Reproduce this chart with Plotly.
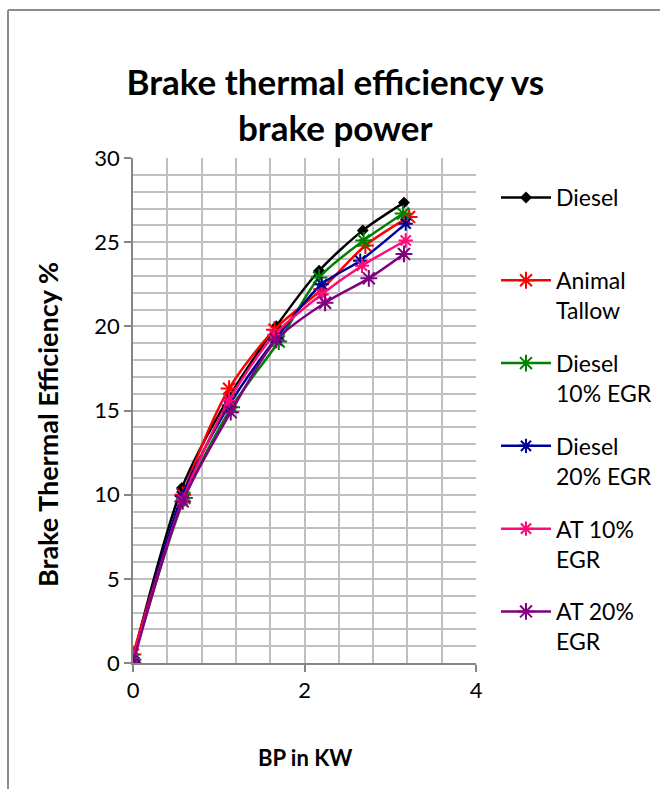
import plotly.graph_objects as go

series_names = ["Diesel", "Animal<br>Tallow", "Diesel<br>10% EGR", "Diesel<br>20% EGR", "AT 10%<br>EGR", "AT 20%<br>EGR"]
bp_diesel = [0, 0.57, 1.12, 1.67, 2.17, 2.68, 3.16]
bte_diesel = [0.3, 10.4, 15.8, 20.0, 23.3, 25.7, 27.35]
bp_at = [0, 0.58, 1.12, 1.65, 2.2, 2.71, 3.22]
bte_at = [0.5, 10.0, 16.3, 19.8, 22.2, 24.8, 26.5]
bp_d10 = [0, 0.6, 1.15, 1.7, 2.17, 2.69, 3.15]
bte_d10 = [0.2, 9.8, 15.2, 19.1, 22.9, 25.1, 26.7]
bp_d20 = [0, 0.57, 1.12, 1.67, 2.2, 2.65, 3.18]
bte_d20 = [0.1, 9.9, 15.3, 19.3, 22.5, 23.9, 26.1]
bp_at10 = [0, 0.58, 1.12, 1.65, 2.2, 2.67, 3.18]
bte_at10 = [0.3, 9.7, 15.6, 19.5, 21.9, 23.6, 25.1]
bp_at20 = [0, 0.58, 1.14, 1.67, 2.24, 2.75, 3.16]
bte_at20 = [0.0, 9.6, 14.9, 19.2, 21.4, 22.85, 24.3]

xs = [bp_diesel, bp_at, bp_d10, bp_d20, bp_at10, bp_at20]
ys = [bte_diesel, bte_at, bte_d10, bte_d20, bte_at10, bte_at20]
colors = ["#000000", "#ff0000", "#008000", "#000099", "#ff0a78", "#800080"]
symbols = ["diamond", "asterisk-open", "asterisk-open", "asterisk-open", "asterisk-open", "asterisk-open"]
sizes = [7, 14, 14, 12, 12, 14]

FONT = "Lato"
fig = go.Figure()
for i in range(6):
    name = series_names[i] if i > 0 else series_names[i] + "<br> "
    fig.add_trace(go.Scatter(
        x=xs[i], y=ys[i], mode="lines+markers", name=name,
        legendgroup=str(i),
        line=dict(color=colors[i], width=2.5, shape="spline", smoothing=0.8),
        marker=dict(symbol=symbols[i], size=sizes[i], color=colors[i],
                    line=dict(color=colors[i], width=2)),
    ))

grid = "#bfbfbf"
fig.update_layout(
    width=660, height=789,
    margin=dict(l=133, r=184, t=158, b=126),
    paper_bgcolor="white", plot_bgcolor="white",
    font=dict(family=FONT, size=22, color="black"),
    title=dict(text="<b>Brake thermal efficiency vs<br>brake power</b>",
               x=0.508, xref="container", xanchor="center",
               y=1 - 95 / 789, yref="container", yanchor="middle",
               font=dict(family=FONT, size=35, color="black")),
    xaxis=dict(range=[0, 4], dtick=2, tick0=0, showgrid=True, gridcolor=grid, gridwidth=1.5,
               minor=dict(dtick=0.4, showgrid=True, gridcolor=grid, gridwidth=1.5),
               showline=True, linecolor="#868686", linewidth=1.5,
               ticks="outside", ticklen=7, tickcolor="#868686", tickwidth=1.5,
               zeroline=False, tickfont=dict(size=22), fixedrange=True),
    yaxis=dict(range=[0, 30], dtick=5, tick0=0, showgrid=True, gridcolor=grid, gridwidth=1.5,
               minor=dict(dtick=1, showgrid=True, gridcolor=grid, gridwidth=1.5),
               showline=True, linecolor="#868686", linewidth=1.5,
               ticks="outside", ticklen=7, tickcolor="#868686", tickwidth=1.5,
               zeroline=False, tickfont=dict(size=22), fixedrange=True),
    legend=dict(xref="container", yref="container", x=496 / 660, xanchor="left",
                y=1 - 176 / 789, yanchor="top", maxheight=700,
                valign="top", tracegroupgap=20, itemwidth=50,
                font=dict(family=FONT, size=23),
                bgcolor="rgba(0,0,0,0)"),
    annotations=[
        dict(text="<b>BP in KW</b>", xref="paper", yref="paper", x=0.5, y=(663 - 757) / 505,
             xanchor="center", yanchor="middle", showarrow=False, font=dict(size=22)),
        dict(text="<b>Brake Thermal Efficiency %</b>", xref="paper", yref="paper",
             x=(47 - 133) / 343, y=(663 - 424) / 505, textangle=-90,
             xanchor="center", yanchor="middle", showarrow=False, font=dict(size=27)),
    ],
    shapes=[
        dict(type="line", xref="paper", yref="paper", x0=(8 - 133) / 343, x1=(8 - 133) / 343,
             y0=(663 - 10) / 505, y1=(663 - 820) / 505, line=dict(color="#8c8c8c", width=2)),
        dict(type="line", xref="paper", yref="paper", x0=(8 - 133) / 343, x1=(700 - 133) / 343,
             y0=(663 - 10) / 505, y1=(663 - 10) / 505, line=dict(color="#8c8c8c", width=2)),
    ],
)
fig.write_html("out.html")
